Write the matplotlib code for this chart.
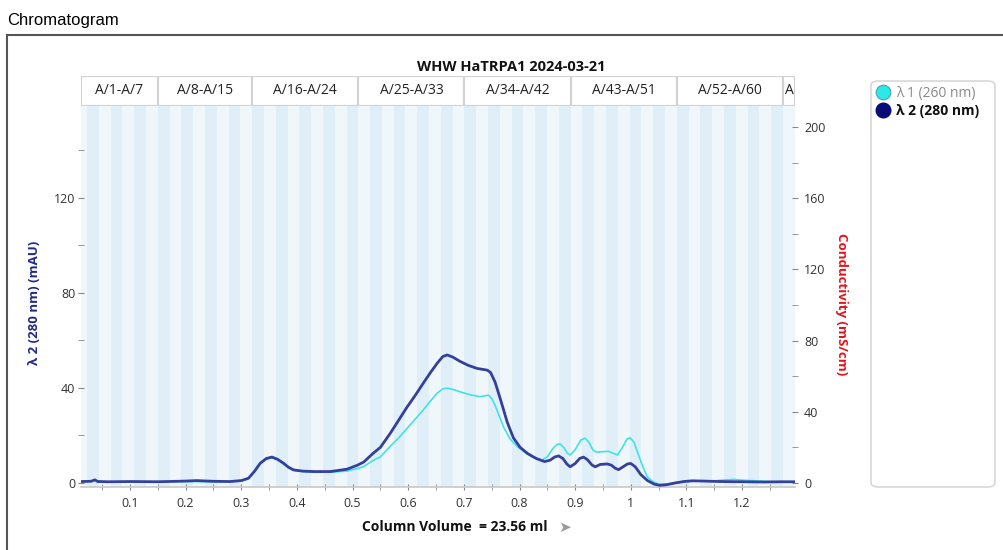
import matplotlib
matplotlib.use('Agg')
import matplotlib.pyplot as plt
from matplotlib.patches import Rectangle, FancyBboxPatch
from matplotlib.lines import Line2D
from matplotlib.ticker import MultipleLocator

plt.rcParams['font.family'] = ['Open Sans', 'DejaVu Sans']

# lambda 2 (280 nm), column volume vs mAU
cv_280 = [0.012, 0.030, 0.037, 0.042, 0.06, 0.10, 0.15, 0.20, 0.22, 0.25, 0.28, 0.30,
          0.313, 0.324, 0.334, 0.345, 0.355, 0.365, 0.376, 0.385, 0.394, 0.41, 0.43,
          0.46, 0.49, 0.508, 0.52, 0.537, 0.55, 0.568, 0.583, 0.598, 0.613, 0.627,
          0.640, 0.652, 0.662, 0.670, 0.680, 0.693, 0.708, 0.724, 0.742, 0.748, 0.756,
          0.766, 0.778, 0.789, 0.801, 0.815, 0.830, 0.845, 0.855, 0.863, 0.870, 0.878,
          0.885, 0.891, 0.900, 0.908, 0.915, 0.922, 0.930, 0.936, 0.945, 0.958, 0.965,
          0.972, 0.978, 0.986, 0.994, 1.000, 1.008, 1.018, 1.030, 1.042, 1.052, 1.065,
          1.080, 1.095, 1.110, 1.13, 1.16, 1.20, 1.24, 1.27, 1.295]
abs_280 = [0.6, 0.7, 1.3, 0.6, 0.5, 0.6, 0.5, 0.8, 1.0, 0.7, 0.6, 1.0,
           2.0, 5.0, 8.3, 10.3, 10.9, 10.0, 8.3, 6.6, 5.5, 5.0, 4.8,
           4.8, 5.8, 7.4, 8.8, 12.5, 15.0, 21.0, 26.5, 32.0, 37.0, 42.0,
           46.5, 50.4, 53.2, 53.9, 53.0, 51.2, 49.5, 48.2, 47.5, 46.5, 42.5,
           35.0, 25.5, 19.0, 15.0, 12.3, 10.3, 9.0, 9.6, 10.9, 11.4, 10.3,
           8.0, 6.8, 8.2, 10.3, 10.9, 9.8, 7.6, 6.8, 7.8, 8.0, 7.5,
           6.2, 5.6, 6.8, 8.0, 8.2, 6.8, 3.5, 1.0, -0.5, -1.0, -0.7,
           0.0, 0.6, 0.9, 0.8, 0.6, 0.5, 0.4, 0.5, 0.5]

# lambda 1 (260 nm)
cv_260 = [0.012, 0.037, 0.06, 0.10, 0.20, 0.25, 0.30, 0.313, 0.324, 0.334, 0.345, 0.355,
          0.365, 0.376, 0.385, 0.394, 0.41, 0.43, 0.46, 0.49, 0.508, 0.52, 0.537, 0.55,
          0.568, 0.583, 0.598, 0.613, 0.627, 0.640, 0.652, 0.662, 0.670, 0.680, 0.693,
          0.710, 0.729, 0.740, 0.745, 0.750, 0.756, 0.763, 0.771, 0.783, 0.795, 0.810,
          0.825, 0.840, 0.850, 0.860, 0.868, 0.873, 0.880, 0.886, 0.891, 0.900, 0.910,
          0.918, 0.925, 0.932, 0.938, 0.950, 0.960, 0.968, 0.976, 0.985, 0.993, 0.999,
          1.006, 1.015, 1.023, 1.030, 1.040, 1.050, 1.065, 1.080, 1.095, 1.12, 1.15,
          1.17, 1.185, 1.20, 1.23, 1.26, 1.295]
abs_260 = [0.5, 1.0, 0.4, 0.5, 0.6, 0.5, 0.8, 1.8, 4.8, 8.0, 10.0, 10.6,
           9.8, 8.0, 6.4, 5.3, 4.8, 4.5, 4.5, 5.0, 6.0, 6.9, 9.5, 11.0,
           15.5, 19.0, 23.0, 27.0, 30.7, 34.5, 37.8, 39.6, 39.9, 39.4, 38.4,
           37.2, 36.3, 36.8, 36.9, 35.5, 32.8, 28.5, 23.7, 18.5, 15.5, 12.8,
           10.8, 9.6, 11.0, 14.5, 16.3, 16.4, 14.8, 12.5, 11.8, 14.0, 18.0,
           18.9, 17.0, 13.8, 13.0, 13.2, 13.3, 12.5, 11.8, 15.0, 18.5, 19.0,
           17.0, 11.0, 6.0, 2.5, 0.5, -0.5, -0.5, 0.2, 0.6, 0.8, 0.9,
           1.3, 1.5, 1.2, 0.8, 0.5, 0.5]

# fractions
frac_first_cv = 0.0015
frac_width = 0.0212
n_frac = 62
frac_groups = [(1, 7), (8, 15), (16, 24), (25, 33), (34, 42), (43, 51), (52, 60), (61, 69)]
frac_labels = ['A/1-A/7', 'A/8-A/15', 'A/16-A/24', 'A/25-A/33', 'A/34-A/42',
               'A/43-A/51', 'A/52-A/60', 'A']

x_min, x_max = 0.012, 1.295
dark_blue = '#353f9c'
cyan = '#40e3e3'

fig = plt.figure(figsize=(10.04, 5.5), dpi=100)

# outer panel
fig.add_artist(Line2D([7/1004, 1], [1-35/550, 1-35/550], color='#555555', lw=1.5))
fig.add_artist(Line2D([7/1004, 7/1004], [0, 1-35/550], color='#555555', lw=1.5))
fig.text(7/1004, 1-20/550, 'Chromatogram', fontsize=12, family='Liberation Sans',
         va='center', ha='left')

ax = fig.add_axes([81/1004, 63/550, 714/1004, 381/550])
ax.set_xlim(x_min, x_max)
ax.set_ylim(-1.7, 158.7)

for i in range(n_frac):
    s = frac_first_cv + i*frac_width
    c = '#f0f7fb' if i % 2 == 0 else '#e0eff7'
    ax.axvspan(s, s+frac_width, color=c, lw=0, zorder=0)

ax.plot(cv_260, abs_260, color=cyan, lw=1.2, zorder=3)
ax.plot(cv_280, abs_280, color=dark_blue, lw=2.0, zorder=4)

for sp in ['top', 'left', 'right']:
    ax.spines[sp].set_visible(False)
ax.spines['bottom'].set_color('#c8c8c8')
ax.spines['bottom'].set_linewidth(1.2)

ax.set_xticks([0.1*k for k in range(1, 13)])
ax.set_xticklabels(['0.1', '0.2', '0.3', '0.4', '0.5', '0.6', '0.7', '0.8', '0.9', '1', '1.1', '1.2'])
ax.xaxis.set_minor_locator(MultipleLocator(0.05))
ax.set_yticks([0, 40, 80, 120])
ax.yaxis.set_minor_locator(MultipleLocator(20))
ax.tick_params(axis='x', which='both', direction='inout', length=5, color='#888888',
               labelsize=9, labelcolor='#333333', pad=5)
ax.tick_params(axis='y', which='both', direction='inout', length=5, color='#888888',
               labelsize=9, labelcolor='#333333', pad=1.5)

ax2 = ax.twinx()
ax2.set_ylim(-2.25, 211.8)
ax2.set_yticks([0, 40, 80, 120, 160, 200])
ax2.yaxis.set_minor_locator(MultipleLocator(20))
for sp in ax2.spines.values():
    sp.set_visible(False)
ax2.tick_params(axis='y', which='both', direction='inout', length=5, color='#888888',
                labelsize=9, labelcolor='#333333', pad=4)

# fraction header
hax = fig.add_axes([81/1004, 1-106/550, 714/1004, 30/550])
hax.set_xlim(x_min, x_max)
hax.set_ylim(0, 1)
hax.axis('off')
for (a, b), lab in zip(frac_groups, frac_labels):
    s = frac_first_cv + (a-1)*frac_width
    e = frac_first_cv + b*frac_width
    hax.add_patch(Rectangle((s, 0), e-s, 1, facecolor='white', edgecolor='#d2d2d2', lw=1.5))
    cx = (max(s, x_min) + min(e, x_max)) / 2
    hax.text(cx, 0.5, lab, ha='center', va='center', fontsize=10, color='#222222')
hax.add_patch(Rectangle((x_min, 0), x_max-x_min, 1, facecolor='none', edgecolor='#d2d2d2', lw=1.5))

fig.text(511/1004, 1-67/550, 'WHW HaTRPA1 2024-03-21', ha='center', va='center',
         fontsize=10.5, fontweight='bold', color='#111111')

fig.text(35/1004, 1-303/550, 'λ 2 (280 nm) (mAU)', rotation=90, ha='center', va='center',
         fontsize=9.5, fontweight='bold', color='#202a8a')
fig.text(842/1004, 1-304/550, 'Conductivity (mS/cm)', rotation=270, ha='center', va='center',
         fontsize=9.5, fontweight='bold', color='#e3131b')
fig.text(455/1004, 1-527/550, 'Column Volume  = 23.56 ml', ha='center', va='center',
         fontsize=10, fontweight='bold', color='#111111')
fig.text(565/1004, 1-527/550, '➤', ha='center', va='center', fontsize=11,
         color='#9a9a9a', family='DejaVu Sans')

# legend box
fig.add_artist(FancyBboxPatch((871/1004, 1-487/550), 124/1004, 406/550,
                              boxstyle='round,pad=0,rounding_size=0.008',
                              facecolor='white', edgecolor='#d8d8d8', lw=1.2,
                              transform=fig.transFigure))
handles = [Line2D([], [], marker='o', ls='none', markersize=10.5, markerfacecolor='#2ee8e8',
                  markeredgecolor='#3aa6b0', markeredgewidth=0.8),
           Line2D([], [], marker='o', ls='none', markersize=10.5, markerfacecolor='#0a0a78',
                  markeredgecolor='#0a0a78')]
leg = fig.legend(handles, ['λ 1 (260 nm)', 'λ 2 (280 nm)'], loc='upper left',
                 bbox_to_anchor=(877/1004, 1-86/550), frameon=False, fontsize=10,
                 handlelength=0.8, handletextpad=0.55, labelspacing=0.2, borderaxespad=0,
                 borderpad=0)
txts = leg.get_texts()
txts[0].set_color('#8a8a8a')
txts[1].set_fontweight('bold')
txts[1].set_color('#111111')

fig.savefig('out.png', dpi=100)
